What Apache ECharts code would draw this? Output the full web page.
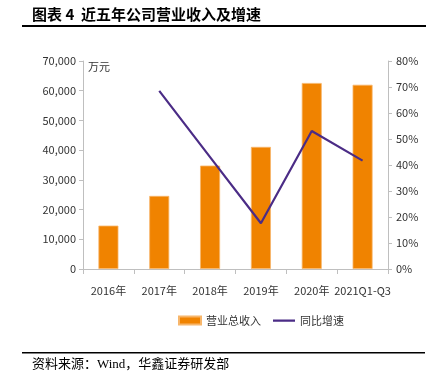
<!DOCTYPE html>
<html><head><meta charset="utf-8">
<script src="https://cdn.jsdelivr.net/npm/echarts@6/dist/echarts.min.js"></script>
<style>html,body{margin:0;padding:0;background:#fff}#c{width:435px;height:379px}</style>
</head><body><div id="c"></div>
<script>
const categories = ['2016年','2017年','2018年','2019年','2020年','2021Q1-Q3'];
const revenue = [14600, 24600, 34800, 41100, 62600, 62000];
const growth = [null, 68.5, 43.0, 17.6, 53.1, 41.7];
const leftTicks = {min:0, max:70000, interval:10000};
const rightTicks = {min:0, max:80, interval:10};

const font = '"Noto Sans CJK SC","Noto Sans",sans-serif';
const chart = echarts.init(document.getElementById('c'));
chart.setOption({
  animation:false,
  textStyle:{fontFamily:font},
  grid:{left:83, right:47, top:61, bottom:110, containLabel:false},
  graphic:[
    {type:'text', left:32, top:7, style:{text:'图表 4  近五年公司营业收入及增速', font:'bold 15px '+font, fill:'#000'}},
    {type:'rect', shape:{x:22, y:25, width:404, height:2}, style:{fill:'#000'}},
    {type:'rect', shape:{x:22, y:352, width:403, height:1.5}, style:{fill:'#000'}},
    {type:'text', left:32, top:358, style:{text:'资料来源：Wind，华鑫证券研发部', font:'13px "Liberation Serif","Noto Sans CJK SC",serif', fill:'#000'}},
    {type:'text', left:88, top:61, style:{text:'万元', font:'11px '+font, fill:'#333'}}
  ],
  legend:{
    bottom:48, left:173, itemWidth:22, itemHeight:8, itemGap:12,
    textStyle:{fontSize:11, color:'#333', fontFamily:font},
    data:[{name:'营业总收入', icon:'rect'},
          {name:'同比增速', icon:'path://M0,0 L0.01,0 L0.01,0.01 Z M0,3 L22,3 L22,5.2 L0,5.2 Z M0,8 L0.01,8 L0.01,7.99 Z'}]
  },
  xAxis:{
    type:'category', data:categories, boundaryGap:true,
    axisLine:{lineStyle:{color:'#BFBFBF'}},
    axisTick:{show:true, length:5, lineStyle:{color:'#BFBFBF'}},
    axisLabel:{color:'#333', fontSize:11, margin:16, interval:0}
  },
  yAxis:[
    {type:'value', min:leftTicks.min, max:leftTicks.max, interval:leftTicks.interval,
     splitLine:{show:false},
     axisLine:{show:true, lineStyle:{color:'#BFBFBF'}},
     axisTick:{show:true, length:4, lineStyle:{color:'#BFBFBF'}},
     axisLabel:{color:'#333', fontSize:11, margin:7, formatter:v=>v.toLocaleString('en-US')}},
    {type:'value', min:rightTicks.min, max:rightTicks.max, interval:rightTicks.interval,
     splitLine:{show:false},
     axisLine:{show:true, lineStyle:{color:'#BFBFBF'}},
     axisTick:{show:true, length:4, lineStyle:{color:'#BFBFBF'}},
     axisLabel:{color:'#333', fontSize:11, margin:8, formatter:'{value}%'}}
  ],
  series:[
    {name:'营业总收入', type:'bar', data:revenue, barWidth:20, yAxisIndex:0,
     itemStyle:{color:'#F08300', borderColor:'#F7B66B', borderWidth:0.8}},
    {name:'同比增速', type:'line', data:growth, yAxisIndex:1, symbol:'none', connectNulls:true,
     lineStyle:{color:'#4B2C86', width:2.2}, itemStyle:{color:'#4B2C86'}}
  ]
});
</script></body></html>
